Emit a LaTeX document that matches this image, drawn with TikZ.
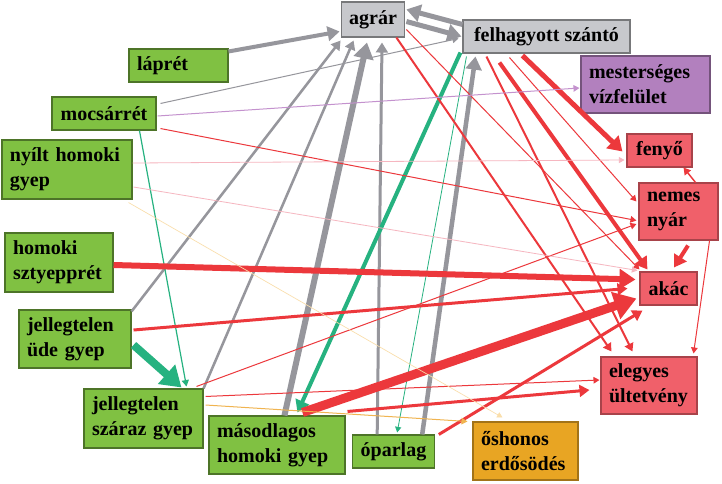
\documentclass[tikz,border=0pt]{standalone}
\usepackage{fontspec}
\setmainfont{Liberation Serif}
\usetikzlibrary{arrows.meta, calc}
\definecolor{habgreen}{RGB}{128,193,66}
\definecolor{habgray}{RGB}{199,200,204}
\definecolor{habpurple}{RGB}{178,128,190}
\definecolor{habred}{RGB}{240,96,106}
\definecolor{haborange}{RGB}{232,165,35}
\definecolor{flowgray}{RGB}{150,150,156}
\definecolor{flowred}{RGB}{236,56,60}
\definecolor{flowteal}{RGB}{38,178,128}
\definecolor{flowpink}{RGB}{246,182,192}
\definecolor{flowviolet}{RGB}{196,146,206}
\definecolor{floworange}{RGB}{240,180,80}
\definecolor{flowfaint}{RGB}{250,222,170}
\hyphenpenalty=10000

\begin{document}
\begin{tikzpicture}[x=0.75pt, y=-0.75pt,
  habitat/.style={rectangle, line width=0.8pt, align=left, inner xsep=6pt, inner ysep=1pt,
                  font=\fontsize{15}{18.5}\selectfont\bfseries},
  meadow/.style={habitat, fill=habgreen, draw=habgreen!60!black},
  landuse/.style={habitat, fill=habgray, draw=habgray!60!black},
  water/.style={habitat, fill=habpurple, draw=habpurple!65!black},
  plantation/.style={habitat, fill=habred, draw=habred!70!black},
  forest/.style={habitat, fill=haborange, draw=haborange!70!black},
  garr/.style={-{Triangle[length=3pt 2, width=3pt 2.6]}, color=flowgray},
  rarr/.style={-{Triangle[length=3pt 2, width=3pt 2.6]}, color=flowred},
  tarr/.style={-{Triangle[length=3pt 2, width=3pt 2.6]}, color=flowteal},
  parr/.style={-{Triangle[length=3pt 2, width=3pt 2.6]}, color=flowpink},
  varr/.style={-{Triangle[length=3pt 2, width=3pt 2.6]}, color=flowviolet},
  oarr/.style={-{Triangle[length=3pt 2, width=3pt 2.6]}, color=floworange}
]
\fill[white] (0,0) rectangle (722,483);
\useasboundingbox (0,0) rectangle (722,483);

% ── Land use (gray) ─────────────────────────────────────────────────────
\node[landuse, minimum width=46.5pt, minimum height=26.25pt] (agrar) at (373,19.5) {agrár};
\node[landuse, minimum width=125.25pt, minimum height=24.75pt] (felh) at (546.5,36.5) {felhagyott szántó};

% ── Grasslands (green) ──────────────────────────────────────────────────
\node[meadow, text width=62.25pt, minimum height=24.75pt] (lapret) at (178.5,65.5) {láprét};
\node[meadow, minimum width=78pt, minimum height=24.75pt] (mocs) at (104,113.5) {mocsárrét};
\node[meadow, text width=85.5pt, minimum height=44.25pt] (nyilt) at (67,169.5) {nyílt homoki\\gyep};
\node[meadow, text width=69pt, minimum height=44.25pt] (sztyepp) at (59,262.5) {homoki\\sztyepprét};
\node[meadow, text width=72pt, minimum height=43.5pt] (ude) at (75,339) {jellegtelen\\üde gyep};
\node[meadow, text width=77.25pt, minimum height=44.25pt] (szaraz) at (143.5,418.5) {jellegtelen\\száraz gyep};
\node[meadow, text width=90pt, minimum height=43.5pt] (masod) at (277,445) {másodlagos\\homoki gyep};
\node[meadow, minimum width=60.75pt, minimum height=24.75pt] (opar) at (393.5,451.5) {óparlag};

% ── Forest, plantations, water ──────────────────────────────────────────
\node[forest, text width=66.75pt, minimum height=43.5pt] (oshon) at (525.5,451) {őshonos\\erdősödés};
\node[plantation, text width=60pt, minimum height=42.75pt] (elegy) at (649,385.5) {elegyes\\ültetvény};
\node[plantation, minimum width=42.75pt, minimum height=24.75pt] (akac) at (668.5,288.5) {akác};
\node[plantation, text width=47.25pt, minimum height=42.75pt] (nemes) at (678.5,211.5) {nemes\\nyár};
\node[plantation, minimum width=48.75pt, minimum height=24.75pt] (fenyo) at (659.5,150.5) {fenyő};
\node[water, text width=84.75pt, minimum height=42.75pt] (mest) at (645.5,84.5) {mesterséges\\vízfelület};

% ── Gray: towards agrár / felhagyott szántó ────────────────────────────
\draw[garr, line width=3pt]    ($(lapret.north east)+(0,3)$) -- ($(agrar.west)+(-1,12)$);
\draw[garr, line width=3.75pt] ($(felh.north west)+(0,5)$)   -- ($(agrar.north east)+(1,8)$);
\draw[garr, line width=3.75pt] ($(agrar.east)+(1,2)$)        -- ($(felh.west)+(-1,0)$);
\draw[garr, line width=0.75pt] ($(mocs.north east)+(4,7)$)   -- ($(felh.west)+(-4,2)$);
\draw[garr, line width=1.9pt]  ($(ude.north east)+(0,2)$)    -- ($(agrar.south west)+(0,3)$);
\draw[garr, line width=1.9pt]  (szaraz.north east)           -- ($(agrar.south west)+(13,3)$);
\draw[garr, line width=4.5pt]  ($(masod.north west)+(76,0)$) -- ($(agrar.south)+(-6,5)$);
\draw[garr, line width=2.25pt] ($(opar.north west)+(25,0)$)  -- ($(agrar.south)+(9,5)$);
\draw[garr, line width=3.4pt]  ($(opar.north west)+(70,0)$)  -- ($(felh.south west)+(13,3)$);

% ── Teal: towards grasslands ───────────────────────────────────────────
\draw[tarr, line width=0.9pt] ($(mocs.south west)+(88,0)$)  -- ($(szaraz.north west)+(103,-2)$);
\draw[tarr, line width=6pt]   ($(ude.east)+(2,6)$)          -- ($(szaraz.north west)+(98,-1)$);
\draw[tarr, line width=3pt]   ($(felh.south west)+(-2,-1)$) -- ($(masod.north west)+(89,-3)$);
\draw[tarr, line width=0.6pt] ($(felh.south west)+(4,3)$)   -- ($(opar.north west)+(45,-2)$);

% ── Red: towards plantations ───────────────────────────────────────────
\draw[rarr, line width=3.75pt] ($(felh.south west)+(60,2)$)    -- ($(fenyo.west)+(-4,1)$);
\draw[rarr, line width=3pt]    ($(felh.south west)+(37,9)$)    -- ($(akac.north west)+(8,-2)$);
\draw[rarr, line width=0.75pt] ($(felh.south west)+(47,4)$)    -- ($(nemes.west)+(-2,-10)$);
\draw[rarr, line width=1.5pt]  ($(felh.south west)+(24,3)$)    -- ($(elegy.north west)+(32,-5)$);
\draw[rarr, line width=1.5pt]  ($(agrar.south east)+(-9,0)$)   -- ($(elegy.north west)+(11,-5)$);
\draw[rarr, line width=0.75pt] ($(agrar.east)+(1,10)$)         -- ($(akac.north west)+(0,-2)$);
\draw[rarr, line width=0.75pt] ($(mocs.south east)+(4,-2)$)    -- ($(nemes.west)+(-2,9)$);
\draw[rarr, line width=4.5pt]  ($(sztyepp.east)+(0,2.5)$)      -- ($(akac.west)+(-4,-9)$);
\draw[rarr, line width=2.25pt] ($(ude.east)+(2,-9)$)           -- ($(akac.west)+(-12,0)$);
\draw[rarr, line width=6.75pt] ($(masod.north west)+(94,-3)$)  -- ($(akac.west)+(-3,10)$);
\draw[rarr, line width=2.25pt] ($(opar.north east)+(4,0)$)     -- ($(akac.south west)+(3,5)$);
\draw[rarr, line width=2.25pt] ($(masod.north east)+(2,-4)$)   -- ($(elegy.west)+(-11,4.5)$);
\draw[rarr, line width=0.75pt] ($(szaraz.north east)+(2,8)$)   -- ($(elegy.west)+(-1,-5.5)$);
\draw[rarr, line width=0.75pt] ($(szaraz.north east)+(-7,-2)$) -- ($(nemes.west)+(-2,12.5)$);
\draw[rarr, line width=1.1pt]  ($(nemes.north east)+(-23,0)$)  -- ($(fenyo.south east)+(-9,0)$);
\draw[rarr, line width=3pt]    ($(nemes.south)+(9.5,5)$)       -- ($(akac.north)+(5.5,-4)$);
\draw[rarr, line width=0.75pt] ($(nemes.south east)+(-9,0)$)   -- ($(elegy.north east)+(-4,-3)$);

% ── Thin coloured flows ────────────────────────────────────────────────
\draw[parr, line width=0.6pt]  ($(nyilt.east)+(0,-6.5)$)       -- ($(fenyo.west)+(-2,9.5)$);
\draw[parr, line width=0.6pt]  ($(nyilt.east)+(1,17.5)$)       -- ($(akac.north west)+(-2,-1)$);
\draw[varr, line width=0.75pt] ($(mocs.east)+(1,2.5)$)         -- ($(mest.west)+(-1,3.5)$);
\draw[oarr, line width=0.75pt] ($(szaraz.east)+(2,-13.5)$)     -- ($(oshon.north west)+(-5,0)$);
\draw[oarr, line width=0.5pt, color=flowfaint] ($(nyilt.south east)+(-4,3)$) -- ($(oshon.north west)+(30,-4)$);

\end{tikzpicture}
\end{document}
